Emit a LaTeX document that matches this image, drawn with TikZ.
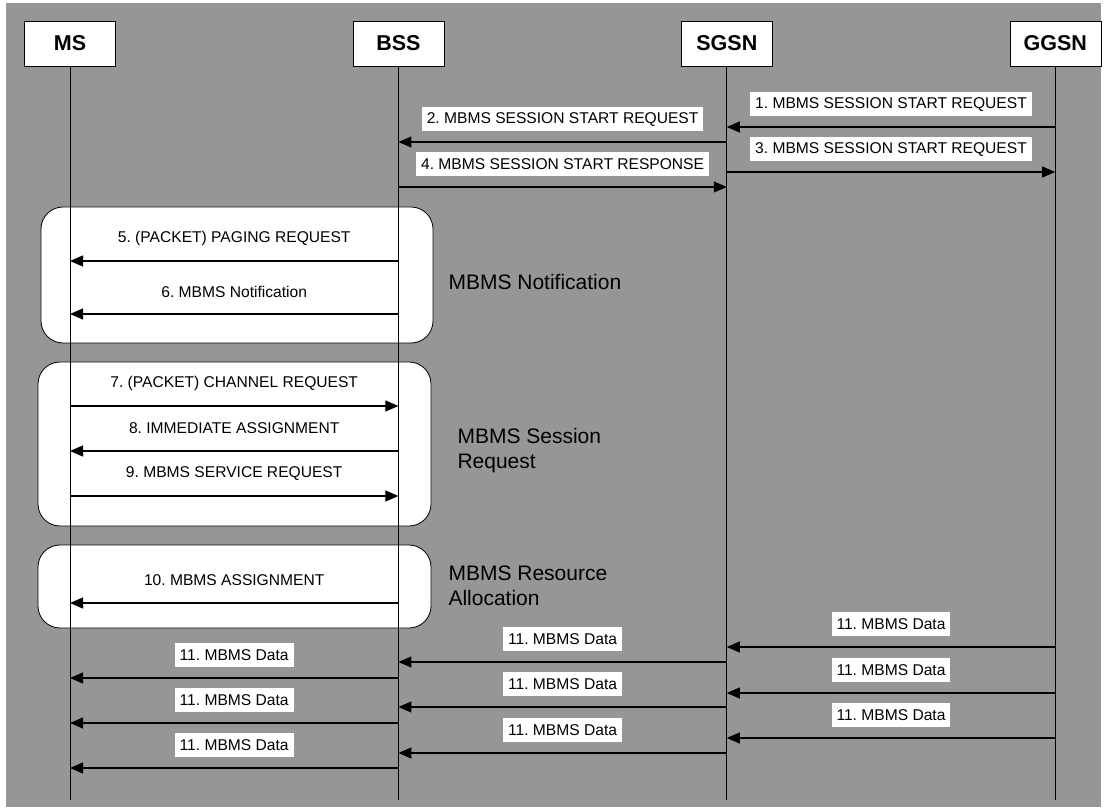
\documentclass[tikz,border=0pt]{standalone}
\usepackage{fontspec}
\setmainfont{Liberation Sans}
\usetikzlibrary{arrows.meta, positioning}
\definecolor{panelgray}{RGB}{150,150,150}
\frenchspacing

\begin{document}
\begin{tikzpicture}[x=1pt, y=-1pt, >={Stealth[length=13pt, width=11pt, inset=0pt]}]
  \tikzstyle{entity}=[draw=black, fill=white, minimum width=91pt, minimum height=45pt, font=\bfseries\fontsize{21.5}{24}\selectfont]
  \tikzstyle{phase}=[draw=black, fill=white, rounded corners=22pt, line width=0.8pt]
  \tikzstyle{phase label}=[anchor=west, align=left, font=\fontsize{21}{25}\selectfont]
  \tikzstyle{msg}=[->, line width=1.1pt]
  \tikzstyle{msg label}=[fill=white, above=10pt, inner xsep=5pt, inner ysep=0pt, minimum height=24pt, font=\fontsize{15.6}{18}\selectfont]

  \useasboundingbox (0,0) rectangle (1106,810);
  \fill[panelgray] (6,3) rectangle (1101,807);

  % Entities
  \node[entity] (ms) at (70,43.5) {MS};
  \node[entity, right=237pt of ms] (bss) {BSS};
  \node[entity, right=237pt of bss] (sgsn) {SGSN};
  \node[entity, right=237pt of sgsn] (ggsn) {GGSN};

  % Phases
  \node[phase, minimum width=392pt, minimum height=136pt] (notify) at (237,275) {};
  \node[phase, minimum width=393pt, minimum height=164pt] (session) at (234.5,444) {};
  \node[phase, minimum width=393pt, minimum height=83pt] (resource) at (234.5,586.5) {};
  \node[phase label] (notify text) at (445,282) {MBMS Notification};
  \node[phase label] (session text) at (454,450.5) {MBMS Session\\Request};
  \node[phase label] (resource text) at (445,585.5) {MBMS Resource\\Allocation};

  % Lifelines
  \foreach \n in {ms, bss, sgsn, ggsn} {
    \coordinate (\n end) at (\n |- 0,800);
    \draw[line width=0.8pt] (\n.south) -- (\n end);
  }

  % Messages
  \foreach \from/\to/\y/\txt in {
      ggsn/sgsn/127/{1. MBMS SESSION START REQUEST},
      sgsn/bss/142/{2. MBMS SESSION START REQUEST},
      sgsn/ggsn/172/{3. MBMS SESSION START REQUEST},
      bss/sgsn/187/{4. MBMS SESSION START RESPONSE},
      bss/ms/261/{5. (PACKET) PAGING REQUEST},
      bss/ms/314/{6. MBMS Notification},
      ms/bss/406/{7. (PACKET) CHANNEL REQUEST},
      bss/ms/451/{8. IMMEDIATE ASSIGNMENT},
      ms/bss/496/{9. MBMS SERVICE REQUEST},
      bss/ms/603/{10. MBMS ASSIGNMENT}} {
    \coordinate (tail) at (\from |- 0,\y);
    \coordinate (head) at (\to |- 0,\y);
    \draw[msg] (tail) -- node[msg label] {\txt} (head);
  }

  % Data
  \foreach \from/\to/\y in {
      ggsn/sgsn/647, ggsn/sgsn/693, ggsn/sgsn/738,
      sgsn/bss/662, sgsn/bss/707, sgsn/bss/753,
      bss/ms/678, bss/ms/723, bss/ms/768} {
    \coordinate (tail) at (\from |- 0,\y);
    \coordinate (head) at (\to |- 0,\y);
    \draw[msg] (tail) -- node[msg label] {11. MBMS Data} (head);
  }

\end{tikzpicture}
\end{document}
